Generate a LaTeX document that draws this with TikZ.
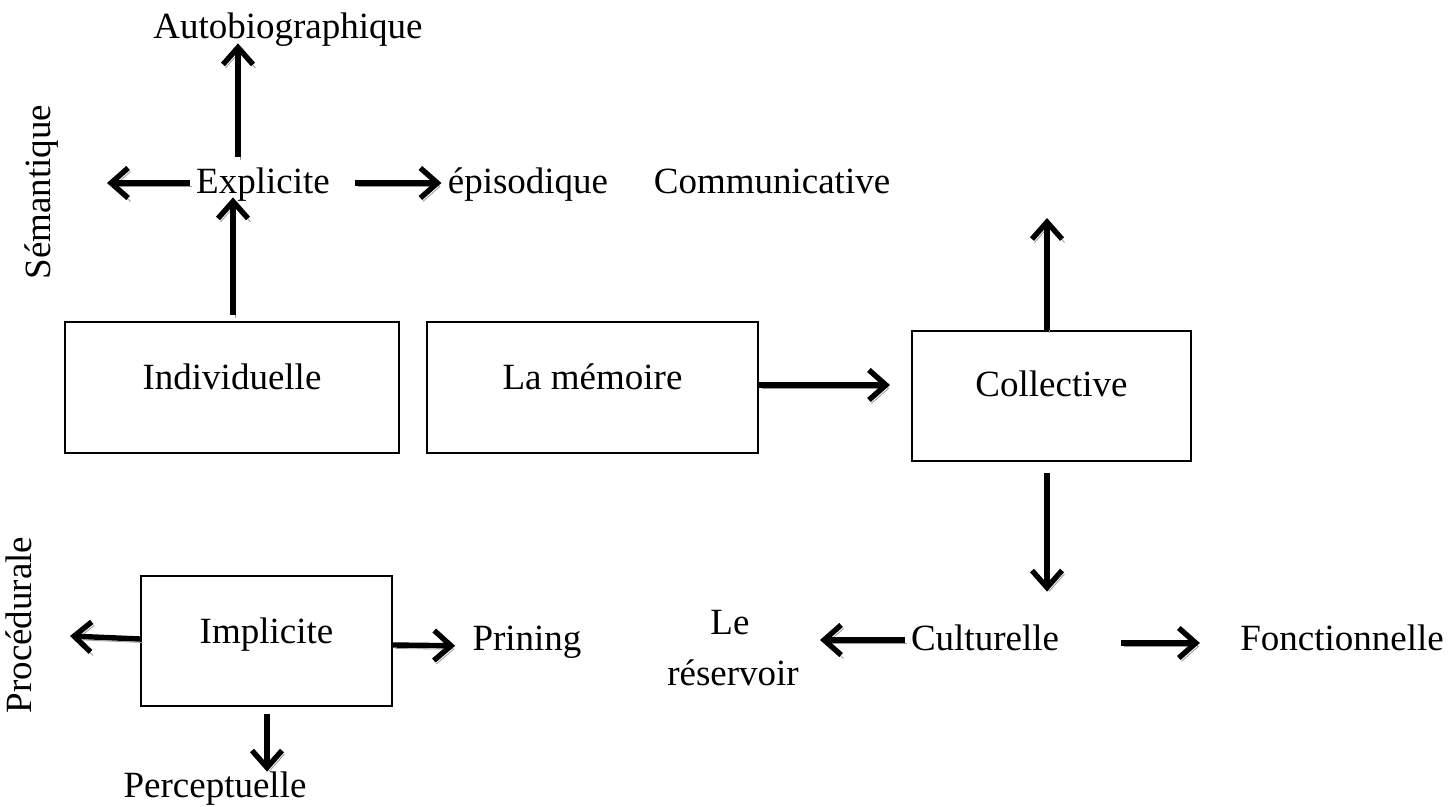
\documentclass[tikz,border=0pt]{standalone}
\usepackage{fontspec}
\setmainfont{Liberation Serif}
\usetikzlibrary{arrows.meta}

\tikzset{
  txt/.style={inner sep=0pt, text height=13pt, text depth=4pt, anchor=base},
  vtxt/.style={txt, rotate=90},
  membox/.style={draw, line width=1pt, inner sep=0pt, anchor=south west},
  arr/.style={line width=2.7pt,
    -{Straight Barb[length=8.5pt,width=15pt,line width=2.7pt]},
    preaction={draw=black!40, transform canvas={shift={(2.5,3.5)}}}},
}

\begin{document}
\begin{tikzpicture}[x=0.5pt, y=-0.5pt, font=\fontsize{18.5pt}{22pt}\selectfont]
  \useasboundingbox (0,0) rectangle (1453,807);

  % boxes
  \node[membox, minimum width=167pt, text height=34pt, text depth=31.5pt] (ind) at (64,454) {Individuelle};
  \node[membox, minimum width=165.5pt, text height=34pt, text depth=31.5pt] (mem) at (426,454) {La mémoire};
  \node[membox, minimum width=139.5pt, text height=33pt, text depth=32pt] (coll) at (911,462) {Collective};
  \node[membox, minimum width=125.5pt, text height=34pt, text depth=31pt] (imp) at (140,707) {Implicite};

  % labels
  \node[txt] (auto) at (288,39) {Autobiographique};
  \node[txt] (expl) at (263,194) {Explicite};
  \node[txt] (epi) at (528,194) {épisodique};
  \node[txt] (comm) at (772,194) {Communicative};
  \node[vtxt] (sem) at (50,192) {Sémantique};
  \node[vtxt] (proc) at (32,625) {Procédurale};
  \node[txt] (le) at (730,635) {Le};
  \node[txt] (res) at (733,686) {réservoir};
  \node[txt] (cult) at (985,651) {Culturelle};
  \node[txt] (fonc) at (1342,651) {Fonctionnelle};
  \node[txt] (prin) at (527,651) {Prining};
  \node[txt] (perc) at (215,798) {Perceptuelle};

  % arrow ends
  \coordinate (tipAuto) at ([xshift=-25pt,yshift=2pt]auto.south);
  \coordinate (tipExpl) at ([xshift=-15pt,yshift=2.5pt]expl.south);
  \coordinate (tipSem) at (107,183);
  \coordinate (tipComm) at (1047,218);
  \coordinate (tipCult) at ([xshift=31pt,yshift=16.5pt]cult.north);
  \coordinate (tipRes) at (820,640);
  \coordinate (tipProc) at (70,636);
  \coordinate (tipPerc) at ([xshift=26pt]perc.north);

  % individual memory branch
  \draw[arr, shorten <=3pt] (tipExpl |- ind.north) -- (tipExpl);
  \draw[arr, shorten <=5.5pt] (tipAuto |- expl.north) -- (tipAuto);
  \draw[arr, shorten <=3pt] ([yshift=1pt]expl.west) -- (tipSem);
  \draw[arr, shorten <=12.5pt, shorten >=3pt] ([yshift=1pt]expl.east) -- ([yshift=1pt]epi.west);

  % memory to collective
  \draw[arr, shorten >=10.5pt] ([yshift=1.25pt]mem.east) -- ([yshift=5.5pt]coll.west);
  \draw[arr] (tipComm |- coll.north) -- (tipComm);
  \draw[arr, shorten <=5.5pt] (tipCult |- coll.south) -- (tipCult);
  \draw[arr, shorten <=3pt] ([yshift=1pt]cult.west) -- (tipRes);
  \draw[arr, shorten <=31pt, shorten >=20pt] ([yshift=-0.5pt]cult.east) -- ([yshift=-0.5pt]fonc.west);

  % implicit memory branch
  \draw[arr] ([yshift=1pt]imp.west) -- (tipProc);
  \draw[arr, shorten >=8.5pt] ([yshift=-2pt]imp.east) -- ([yshift=-2pt]prin.west);
  \draw[arr, shorten <=3.5pt] (tipPerc |- imp.south) -- (tipPerc);
\end{tikzpicture}
\end{document}
